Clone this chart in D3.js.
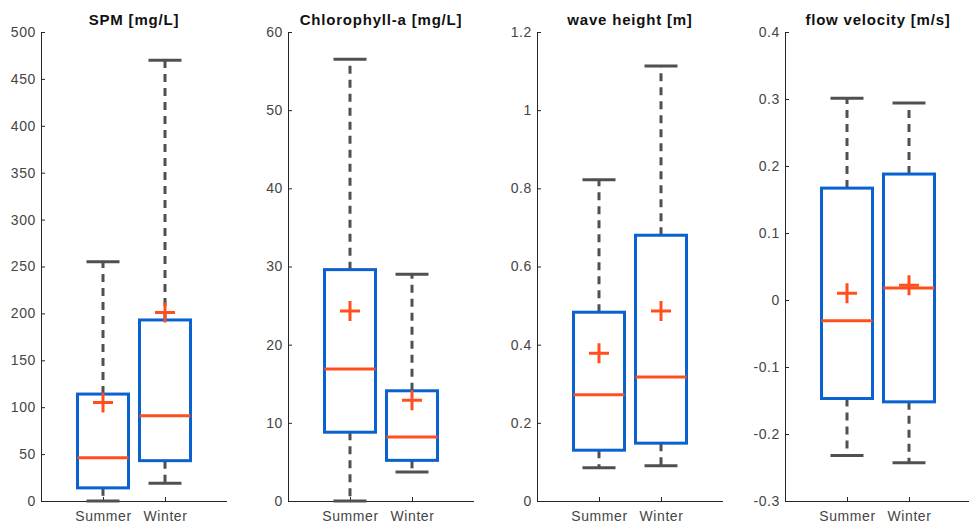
<!DOCTYPE html>
<html><head><meta charset="utf-8">
<script src="https://cdn.jsdelivr.net/npm/d3@7"></script>
<style>body{margin:0;background:#fff}svg{display:block}text{font-family:"Liberation Sans",Arial,sans-serif}</style>
</head><body>
<svg id="c" width="969" height="526"></svg>
<script>
const categories = ["Summer", "Winter"];
const titles = ["SPM [mg/L]", "Chlorophyll-a [mg/L]", "wave height [m]", "flow velocity [m/s]"];
const yDomains = [[0, 500], [0, 60], [0, 1.2], [-0.3, 0.4]];
const yTicks = [
  [0, 50, 100, 150, 200, 250, 300, 350, 400, 450, 500],
  [0, 10, 20, 30, 40, 50, 60],
  [0, 0.2, 0.4, 0.6, 0.8, 1, 1.2],
  [-0.3, -0.2, -0.1, 0, 0.1, 0.2, 0.3, 0.4]
];
// per panel: [Summer, Winter]
const lowerWhisker = [[0, 19], [0, 3.7], [0.085, 0.09], [-0.232, -0.243]];
const q1Values = [[14, 43], [8.8, 5.2], [0.13, 0.148], [-0.147, -0.152]];
const medianValues = [[46, 91], [16.9, 8.2], [0.272, 0.317], [-0.031, 0.018]];
const q3Values = [[114, 193], [29.6, 14.1], [0.483, 0.68], [0.167, 0.188]];
const upperWhisker = [[255, 470], [56.5, 29], [0.822, 1.113], [0.301, 0.294]];
const meanValues = [[105, 201], [24.3, 12.9], [0.378, 0.486], [0.01, 0.022]];

const svg = d3.select("#c");
const panelLeft = [41, 288, 537, 785];
const panelW = 186;
const plotTop = 32, plotBottom = 501;
const axisCol = "#262626", labelCol = "#454545";
const boxCol = "#0a62d0", medCol = "#ff4f1f", whiskCol = "#505050";

titles.forEach((t, i) => {
  const g = svg.append("g");
  const x = d3.scaleLinear().domain([0, 3]).range([panelLeft[i], panelLeft[i] + panelW]);
  const y = d3.scaleLinear().domain(yDomains[i]).range([plotBottom, plotTop]);

  const ya = d3.axisLeft(y).tickValues(yTicks[i]).tickSize(-4).tickPadding(5).tickFormat(d => String(+d.toFixed(2)));
  const yg = g.append("g").attr("transform", `translate(${panelLeft[i]},0)`).call(ya);
  const xa = d3.axisBottom(x).tickValues([1, 2]).tickSize(-4).tickPadding(10).tickFormat(d => categories[d - 1]);
  const xg = g.append("g").attr("transform", `translate(0,${plotBottom})`).call(xa);
  [yg, xg].forEach(a => {
    a.select(".domain").attr("stroke", axisCol).attr("stroke-width", 1);
    a.selectAll(".tick line").attr("stroke", axisCol);
    a.selectAll(".tick text").attr("fill", labelCol).style("font-size", "14px").style("letter-spacing", "0.6px");
  });
  yg.select(".domain").attr("d", `M0.5,${plotTop}V${plotBottom}`);
  xg.select(".domain").attr("d", `M${panelLeft[i]},0.5H${panelLeft[i] + panelW}`);

  g.append("text").attr("x", panelLeft[i] + panelW / 2).attr("y", 25)
    .attr("text-anchor", "middle").attr("font-weight", "bold").style("font-size", "15px")
    .style("letter-spacing", "0.8px").attr("fill", "#111").text(t);

  const halfBox = 25.5, halfCap = 16.5, halfPlus = 10;
  categories.forEach((c, j) => {
    const cx = x(j + 1);
    g.append("line").attr("x1", cx).attr("x2", cx).attr("y1", y(q3Values[i][j])).attr("y2", y(upperWhisker[i][j]))
      .attr("stroke", whiskCol).attr("stroke-width", 3).attr("stroke-dasharray", "8,6");
    g.append("line").attr("x1", cx).attr("x2", cx).attr("y1", y(q1Values[i][j])).attr("y2", y(lowerWhisker[i][j]))
      .attr("stroke", whiskCol).attr("stroke-width", 3).attr("stroke-dasharray", "8,6");
    [upperWhisker[i][j], lowerWhisker[i][j]].forEach(v => {
      g.append("line").attr("x1", cx - halfCap).attr("x2", cx + halfCap).attr("y1", y(v)).attr("y2", y(v))
        .attr("stroke", whiskCol).attr("stroke-width", 3);
    });
    g.append("rect").attr("x", cx - halfBox).attr("width", 2 * halfBox)
      .attr("y", y(q3Values[i][j])).attr("height", y(q1Values[i][j]) - y(q3Values[i][j]))
      .attr("fill", "none").attr("stroke", boxCol).attr("stroke-width", 3);
    g.append("line").attr("x1", cx - halfBox).attr("x2", cx + halfBox)
      .attr("y1", y(medianValues[i][j])).attr("y2", y(medianValues[i][j]))
      .attr("stroke", medCol).attr("stroke-width", 3);
    const my = y(meanValues[i][j]);
    g.append("path").attr("d", `M${cx - halfPlus},${my}H${cx + halfPlus}M${cx},${my - halfPlus}V${my + halfPlus}`)
      .attr("stroke", medCol).attr("stroke-width", 3).attr("fill", "none");
  });
});
</script>
</body></html>
